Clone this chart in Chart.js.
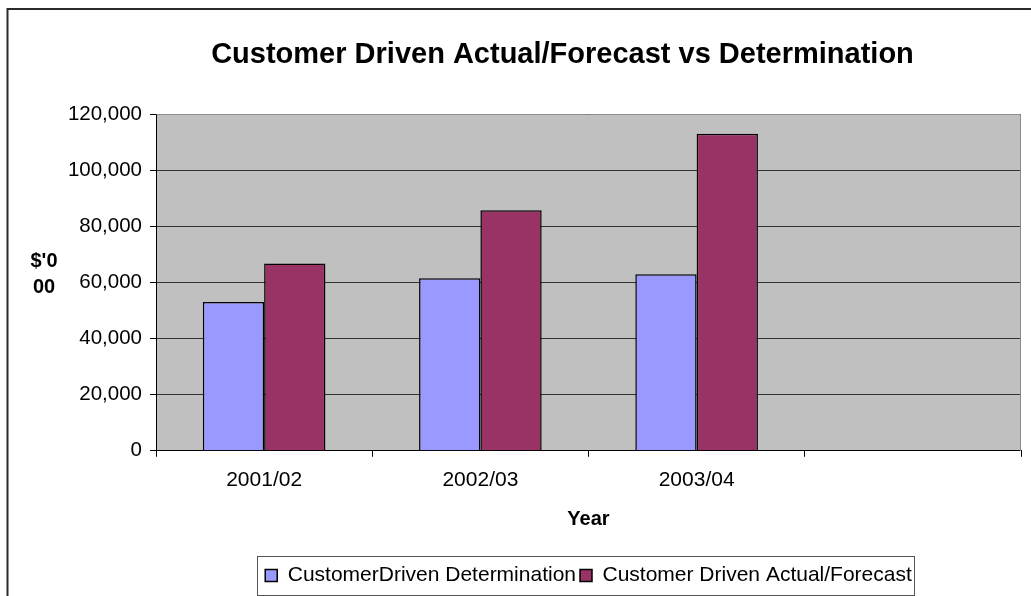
<!DOCTYPE html>
<html>
<head>
<meta charset="utf-8">
<title>Customer Driven Actual/Forecast vs Determination</title>
<script src="https://cdn.jsdelivr.net/npm/chart.js@4.4.1/dist/chart.umd.min.js"></script>
<style>
	html, body { margin: 0; padding: 0; background: #fff; }
	canvas { display: block; }
</style>
</head>
<body>
<canvas id="chart" width="1031" height="596"></canvas>
<script>
// values ($'000)
const years = ["2001/02", "2002/03", "2003/04", ""];
const determination = [53000, 61500, 62900, null];
const actualForecast = [66700, 85700, 113000, null];
const yMin = 0;
const yMax = 120000;
const yStep = 20000;

const chartTitle = "Customer Driven Actual/Forecast vs Determination";
const yTitle = ["$'0", "00"];

const FONT = "Arial, 'Liberation Sans', sans-serif";

// grey plot background + lighter border on top/right
const plotArea = {
	id: "plotArea",
	beforeDraw(chart) {
		const { ctx, chartArea: a } = chart;
		ctx.save();
		ctx.fillStyle = "#c0c0c0";
		ctx.fillRect(a.left, a.top, a.right - a.left, a.bottom - a.top);
		ctx.restore();
	},
	beforeDatasetsDraw(chart) {
		const { ctx, chartArea: a } = chart;
		ctx.save();
		ctx.strokeStyle = "#8c8c8c";
		ctx.lineWidth = 1;
		ctx.beginPath();
		ctx.moveTo(Math.round(a.left) + 0.5, Math.round(a.top) + 0.5);
		ctx.lineTo(Math.round(a.right) - 0.5, Math.round(a.top) + 0.5);
		ctx.lineTo(Math.round(a.right) - 0.5, Math.round(a.bottom));
		ctx.stroke();
		ctx.restore();
	},
};

// title (sits left of the plot centre, as in the original), y title on two lines, frame, legend box
const extras = {
	id: "extras",
	afterDraw(chart) {
		const ctx = chart.ctx;
		ctx.save();
		ctx.fillStyle = "#000";
		ctx.textAlign = "center";
		ctx.textBaseline = "middle";
		ctx.font = "bold 29px " + FONT;
		ctx.fillText(chartTitle, 562.5, 55);

		ctx.font = "bold 20px " + FONT;
		ctx.textBaseline = "alphabetic";
		ctx.fillText(yTitle[0], 44, 267);
		ctx.fillText(yTitle[1], 44, 293);

		ctx.strokeStyle = "#2a2a2a";
		ctx.lineWidth = 2;
		ctx.beginPath();
		ctx.moveTo(7.5, 596);
		ctx.lineTo(7.5, 9);
		ctx.lineTo(1031, 9);
		ctx.stroke();

		const boxes = chart.legend.legendHitBoxes;
		if (boxes && boxes.length) {
			const left = Math.min(...boxes.map((b) => b.left));
			const right = Math.max(...boxes.map((b) => b.left + b.width));
			const mid = boxes[0].top + boxes[0].height / 2;
			ctx.strokeStyle = "#555";
			ctx.lineWidth = 1;
			ctx.strokeRect(Math.round(left - 8) + 0.5, Math.round(mid - 19.5) + 0.5, Math.round(right - left + 10), 39);
		}
		ctx.restore();
	},
};

new Chart(document.getElementById("chart"), {
	type: "bar",
	data: {
		labels: years,
		datasets: [
			{
				label: "CustomerDriven Determination",
				data: determination,
				backgroundColor: "#9999ff",
				borderColor: "#000",
				borderWidth: 1.5,
				categoryPercentage: 0.567,
				barPercentage: 1,
			},
			{
				label: "Customer Driven Actual/Forecast",
				data: actualForecast,
				backgroundColor: "#993366",
				borderColor: "#000",
				borderWidth: 1.5,
				categoryPercentage: 0.567,
				barPercentage: 1,
			},
		],
	},
	options: {
		responsive: false,
		animation: false,
		layout: {
			padding: { left: 10, right: 10, top: 114, bottom: 0 },
		},
		plugins: {
			title: { display: false },
			legend: {
				position: "bottom",
				fullSize: false,
				labels: {
					color: "#000",
					font: { family: FONT, size: 21 },
					boxWidth: 12,
					boxHeight: 12,
					padding: 4,
				},
			},
			tooltip: { enabled: false },
		},
		scales: {
			x: {
				grid: {
					drawOnChartArea: false,
					drawTicks: true,
					tickLength: 6,
					color: "#000",
				},
				border: { color: "#000", width: 1 },
				ticks: {
					color: "#000",
					font: { family: FONT, size: 21 },
					padding: 11,
					maxRotation: 0,
				},
				title: {
					display: true,
					text: "Year",
					color: "#000",
					font: { family: FONT, size: 20, weight: "bold" },
					padding: { top: 3, bottom: 30 },
				},
			},
			y: {
				min: yMin,
				max: yMax,
				afterFit(scale) {
					scale.width = 146;
				},
				grid: {
					color: "#333",
					tickLength: 6,
					tickColor: "#000",
				},
				border: { color: "#000", width: 1 },
				ticks: {
					stepSize: yStep,
					color: "#000",
					font: { family: FONT, size: 20.5 },
					padding: 8,
					callback: (v) => v.toLocaleString("en-US"),
				},
			},
		},
	},
	plugins: [plotArea, extras],
});
</script>
</body>
</html>
